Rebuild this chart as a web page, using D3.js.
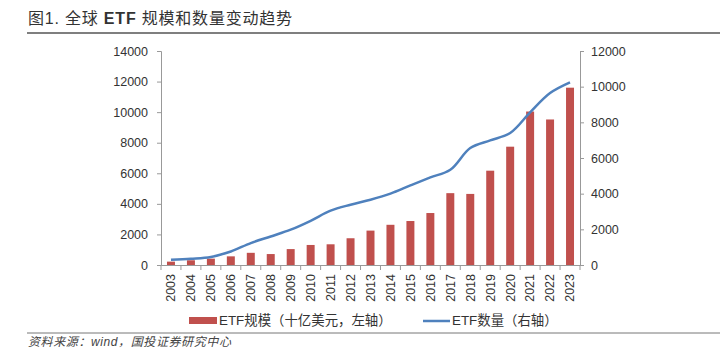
<!DOCTYPE html>
<html><head><meta charset="utf-8">
<script src="https://cdn.jsdelivr.net/npm/d3@7"></script>
<style>body{margin:0;background:#fff}svg{display:block}</style>
</head><body>
<svg id="c" width="720" height="352"></svg>
<script>
const years = ["2003","2004","2005","2006","2007","2008","2009","2010","2011","2012","2013","2014","2015","2016","2017","2018","2019","2020","2021","2022","2023"];
const aum = [220,310,416,566,797,716,1041,1311,1355,1750,2250,2630,2877,3400,4700,4650,6170,7740,10040,9520,11600];
const count = [290,350,450,760,1230,1600,1980,2480,3045,3380,3660,4000,4460,4910,5340,6560,6990,7400,8560,9640,10240];
const leftTicks = [0,2000,4000,6000,8000,10000,12000,14000];
const rightTicks = [0,2000,4000,6000,8000,10000,12000];
const titleParts = [["图1. 全球 ",false],["ETF",true],[" 规模和数量变动趋势",false]];
const source = "资料来源：wind，国投证券研究中心";
const legendBar = "ETF规模（十亿美元，左轴）";
const legendLine = "ETF数量（右轴）";

const svg = d3.select("#c");
const font = "'Liberation Sans','Noto Sans CJK SC',sans-serif";
const L = 161, R = 580, T = 51, B = 265;

const tt = svg.append("text").attr("x",28).attr("y",24).attr("font-family",font)
  .attr("font-size",16).attr("letter-spacing",0.8).attr("fill","#333");
tt.selectAll("tspan").data(titleParts).join("tspan").attr("font-weight",d=>d[1]?"bold":"normal").text(d=>d[0]);
svg.append("line").attr("x1",27).attr("x2",720).attr("y1",33).attr("y2",33).attr("stroke","#555").attr("stroke-width",1.5);

const x = d3.scaleBand().domain(years).range([L,R]).paddingInner(0.6).paddingOuter(0.3);
const xb = d3.scaleBand().domain(years).range([L,R]);
const yL = d3.scaleLinear().domain([0,14000]).range([B,T]);
const yR = d3.scaleLinear().domain([0,12000]).range([B,T]);

const fmt = d3.format("d");
const gL = svg.append("g").attr("transform",`translate(${L},0)`)
  .call(d3.axisLeft(yL).tickValues(leftTicks).tickFormat(fmt).tickSize(4).tickPadding(9));
const gR = svg.append("g").attr("transform",`translate(${R},0)`)
  .call(d3.axisRight(yR).tickValues(rightTicks).tickFormat(fmt).tickSize(4).tickPadding(7));
[gL,gR].forEach(g=>{
  g.selectAll("path,line").attr("stroke","#999");
  g.selectAll("text").attr("font-family",font).attr("font-size",12.5).attr("fill","#333");
});

svg.append("g").selectAll("rect").data(years).join("rect")
  .attr("x",d=>x(d)).attr("width",x.bandwidth())
  .attr("y",(d,i)=>yL(aum[i])).attr("height",(d,i)=>B-yL(aum[i]))
  .attr("fill","#C0504D");

const gX = svg.append("g").attr("transform",`translate(0,${B})`)
  .call(d3.axisBottom(xb).tickSize(0).tickSizeOuter(0));
gX.select("path").attr("stroke","#999");
gX.selectAll("text").attr("font-family",font).attr("font-size",12.5).attr("fill","#333")
  .attr("transform","rotate(-90)").attr("text-anchor","end").attr("x",-9).attr("y",0).attr("dy","0.35em");
svg.append("g").selectAll("line").data(years.concat(["end"])).join("line")
  .attr("x1",(d,i)=>L+i*xb.step()).attr("x2",(d,i)=>L+i*xb.step())
  .attr("y1",B).attr("y2",B+5).attr("stroke","#999");

const line = d3.line().x((d,i)=>xb(years[i])+xb.bandwidth()/2).y(d=>yR(d)).curve(d3.curveCatmullRom.alpha(0.5));
svg.append("path").datum(count).attr("d",line).attr("fill","none")
  .attr("stroke","#4F81BD").attr("stroke-width",2.5);

// legend
svg.append("rect").attr("x",189).attr("y",317).attr("width",28).attr("height",7).attr("fill","#C0504D");
svg.append("text").attr("x",219).attr("y",325).attr("font-family",font).attr("font-size",13.4).attr("fill","#333").text(legendBar);
svg.append("line").attr("x1",423).attr("x2",450).attr("y1",321).attr("y2",321).attr("stroke","#4F81BD").attr("stroke-width",2.5);
svg.append("text").attr("x",452).attr("y",325).attr("font-family",font).attr("font-size",13.4).attr("fill","#333").text(legendLine);

svg.append("line").attr("x1",27).attr("x2",720).attr("y1",333).attr("y2",333).attr("stroke","#777").attr("stroke-width",1);
svg.append("text").attr("x",28).attr("y",346).attr("font-family",font).attr("font-size",12)
  .attr("letter-spacing",0.6).attr("font-style","italic").attr("fill","#444").text(source);
</script>
</body></html>
